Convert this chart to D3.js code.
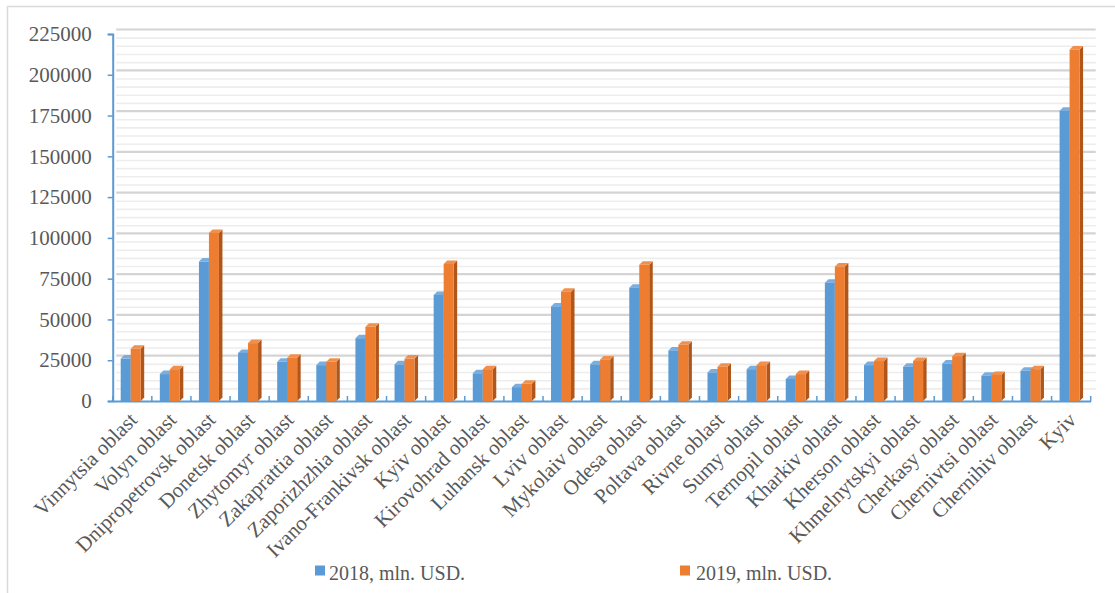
<!DOCTYPE html>
<html>
<head>
<meta charset="utf-8">
<script src="https://cdn.jsdelivr.net/npm/d3@7/dist/d3.min.js"></script>
<style>
  html, body { margin: 0; padding: 0; background: #fff; }
  svg { display: block; }
  text { font-family: "Liberation Serif", "Times New Roman", serif; fill: #595959; }
</style>
</head>
<body>
<svg id="chart" width="1115" height="593"></svg>
<script>
const categories = ["Vinnytsia oblast", "Volyn oblast", "Dnipropetrovsk oblast", "Donetsk oblast", "Zhytomyr oblast", "Zakaprattia oblast", "Zaporizhzhia oblast", "Ivano-Frankivsk oblast", "Kyiv oblast", "Kirovohrad oblast", "Luhansk oblast", "Lviv oblast", "Mykolaiv oblast", "Odesa oblast", "Poltava oblast", "Rivne oblast", "Sumy oblast", "Ternopil oblast", "Kharkiv oblast", "Kherson oblast", "Khmelnytskyi oblast", "Cherkasy oblast", "Chernivtsi oblast", "Chernihiv oblast", "Kyiv"];
const values2018 = [26000, 16500, 85500, 29500, 24000, 22000, 38500, 22500, 65000, 17000, 8500, 58000, 22500, 69500, 31000, 17500, 19500, 13500, 72500, 22000, 21000, 23000, 15500, 18500, 178000];
const values2019 = [32000, 19500, 103000, 35500, 26500, 24000, 45500, 26000, 84000, 19500, 10500, 67000, 25500, 83500, 34500, 21000, 22000, 16500, 82500, 24500, 24500, 27500, 16000, 19500, 215500];
const yTicks = [0, 25000, 50000, 75000, 100000, 125000, 150000, 175000, 200000, 225000];
const seriesNames = ["2018, mln. USD.", "2019, mln. USD."];

const svg = d3.select("#chart");
const pLeft = 112.7, pRight = 1090.7, pTop = 34, pBottom = 401;
const depth = 3.5;

// chart border
svg.append("rect").attr("x", 7.5).attr("y", 6.5).attr("width", 1120).attr("height", 620)
  .attr("fill", "none").attr("stroke", "#d9d9d9").attr("stroke-width", 1.5);

const x = d3.scaleBand().domain(categories).range([pLeft, pRight]).paddingInner(0).paddingOuter(0);
const y = d3.scaleLinear().domain([0, 225000]).range([pBottom, pTop]);

// minor gridlines (back wall, shifted by depth)
const minor = d3.range(0, 225001, 5000).filter(v => v % 25000 !== 0);
svg.append("g").selectAll("line").data(minor).join("line")
  .attr("x1", pLeft + depth).attr("x2", pRight + 5)
  .attr("y1", d => y(d) - 4).attr("y2", d => y(d) - 4)
  .attr("stroke", "#ededed").attr("stroke-width", 1.6);
svg.append("g").selectAll("line").data(yTicks.filter(v => v > 0)).join("line")
  .attr("x1", pLeft + depth).attr("x2", pRight + 5)
  .attr("y1", d => y(d) - 4.5).attr("y2", d => y(d) - 4.5)
  .attr("stroke", "#d4d4d4").attr("stroke-width", 2.2);

// y axis
const yAxis = d3.axisLeft(y).tickValues(yTicks).tickSize(5).tickPadding(16).tickFormat(d3.format("d"));
const gy = svg.append("g").attr("transform", `translate(${pLeft},0)`).call(yAxis);
gy.select(".domain").attr("stroke", "#5b9bd5").attr("stroke-width", 2);
gy.selectAll(".tick line").attr("stroke", "#5b9bd5").attr("stroke-width", 1.5);
gy.selectAll(".tick text").attr("font-size", 21).attr("fill", "#595959")
  .style("font-family", "'Liberation Serif', serif");

// x axis
const xAxis = d3.axisBottom(x).tickSize(0).tickFormat("");
const gx = svg.append("g").attr("transform", `translate(0,${pBottom})`).call(xAxis);
gx.select(".domain").attr("stroke", "#5b9bd5").attr("stroke-width", 2);
// category boundary ticks
const bounds = categories.map(c => x(c)).concat([pRight]);
svg.append("g").selectAll("line").data(bounds).join("line")
  .attr("x1", d => d).attr("x2", d => d)
  .attr("y1", pBottom - 5).attr("y2", pBottom)
  .attr("stroke", "#5b9bd5").attr("stroke-width", 1.5);

// bars
const bw = 10, off = 8;
const colors = [
  { front: "#5b9bd5", side: "#3f78ad", topc: "#7aaee0" },
  { front: "#ed7d31", side: "#b0561b", topc: "#f0904c" }
];
const series = [values2018, values2019];
series.forEach((vals, si) => {
  const c = colors[si];
  const g = svg.append("g");
  const data = categories.map((cat, i) => ({ cat, v: vals[i] }));
  g.selectAll("path.side").data(data).join("path").attr("class", "side")
    .attr("d", d => {
      const x0 = x(d.cat) + off + si * bw + bw, y0 = y(d.v);
      return `M${x0},${y0}L${x0 + depth},${y0 - depth}L${x0 + depth},${pBottom - depth}L${x0},${pBottom}Z`;
    }).attr("fill", c.side);
  g.selectAll("path.top").data(data).join("path").attr("class", "top")
    .attr("d", d => {
      const x0 = x(d.cat) + off + si * bw, y0 = y(d.v);
      return `M${x0},${y0}L${x0 + depth},${y0 - depth}L${x0 + bw + depth},${y0 - depth}L${x0 + bw},${y0}Z`;
    }).attr("fill", c.topc);
  g.selectAll("rect").data(data).join("rect")
    .attr("x", d => x(d.cat) + off + si * bw)
    .attr("y", d => y(d.v))
    .attr("width", bw)
    .attr("height", d => pBottom - y(d.v))
    .attr("fill", c.front);
});

// category labels
svg.append("g").selectAll("text").data(categories).join("text")
  .attr("transform", d => `translate(${x(d) + x.bandwidth() / 2 + 1},${pBottom + 15}) rotate(-45)`)
  .attr("text-anchor", "end")
  .attr("dy", "0.35em")
  .attr("font-size", 21)
  .text(d => d);

// legend
const legendX = [315, 680];
seriesNames.forEach((name, i) => {
  svg.append("rect").attr("x", legendX[i]).attr("y", 565.5).attr("width", 10).attr("height", 10)
    .attr("fill", colors[i].front);
  svg.append("text").attr("x", legendX[i] + (i === 0 ? 14 : 16)).attr("y", 580)
    .attr("font-size", 20).text(name);
});
</script>
</body>
</html>
